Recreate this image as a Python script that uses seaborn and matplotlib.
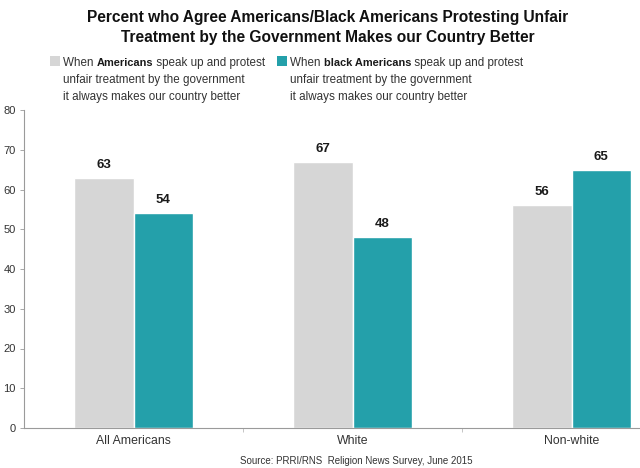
import pandas as pd
import numpy as np
import seaborn as sns
import matplotlib.pyplot as plt
from matplotlib.patches import Rectangle

# Data
groups = ['All Americans', 'White', 'Non-white']
americans = [63, 67, 56]
black_americans = [54, 48, 65]
series = ['Americans', 'black Americans']
colors = ['#D6D6D6', '#24A0AA']

df = pd.DataFrame({
    'group': groups * 2,
    'series': [series[0]] * 3 + [series[1]] * 3,
    'value': americans + black_americans,
})

sns.set_style('white')
plt.rcParams['font.family'] = ['Liberation Sans', 'DejaVu Sans']

fig = plt.figure(figsize=(6.4, 4.68), dpi=100)
ax = fig.add_axes([24 / 640, 40 / 468, 1 - 24 / 640, 318 / 468])

sns.barplot(data=df, x='group', y='value', hue='series', palette=colors,
            width=0.54, ax=ax, legend=False, saturation=1)

for c in ax.containers:
    ax.bar_label(c, fmt='%d', padding=5, fontsize=9.5, fontweight='bold',
                 color='#1a1a1a')

ax.set_ylim(0, 80)
ax.set_xlim(-0.5, 2.5 - 41 / 219)
ax.set_yticks(np.arange(0, 81, 10))
ax.set_xlabel('')
ax.set_ylabel('')
for s in ['top', 'right']:
    ax.spines[s].set_visible(False)
for s in ['left', 'bottom']:
    ax.spines[s].set_color('#9a9a9a')
    ax.spines[s].set_linewidth(0.8)
ax.tick_params(axis='y', length=3, width=0.6, color='#9a9a9a', labelsize=8,
               labelcolor='#333333', pad=3, left=True)
ax.tick_params(axis='x', length=0, labelsize=8.8, labelcolor='#333333', pad=5)
ax.set_xticks([0.5, 1.5], minor=True)
ax.tick_params(axis='x', which='minor', length=3, width=0.6, color='#bbbbbb',
               bottom=True)

# Title, one text per line
title_lines = ['Percent who Agree Americans/Black Americans Protesting Unfair',
               'Treatment by the Government Makes our Country Better']
for line, base in zip(title_lines, [22, 42]):
    fig.text(0.512, 1 - base / 468, line, ha='center', va='baseline',
             fontsize=11.2, fontweight='bold', color='#111111')

# Legend built by hand (mixed bold text on one baseline)
renderer = fig.canvas.get_renderer()
fs = 8.4

def legend_entry(x_px, color, bold_word):
    fig.add_artist(Rectangle((x_px / 640, 1 - 66 / 468), 10 / 640, 10 / 468,
                             transform=fig.transFigure, color=color, lw=0))
    x = x_px + 13
    y = 1 - 66 / 468
    for piece, weight, size in [('When ', 'normal', fs), (bold_word, 'bold', 7.9),
                                (' speak up and protest', 'normal', fs)]:
        t = fig.text(x / 640, y, piece, fontsize=size, fontweight=weight,
                     va='baseline', color='#1a1a1a' if weight == 'bold' else '#333333')
        x = t.get_window_extent(renderer).x1
    fig.text((x_px + 13) / 640, 1 - 83 / 468, 'unfair treatment by the government',
             fontsize=fs, va='baseline', color='#333333')
    fig.text((x_px + 13) / 640, 1 - 100 / 468, 'it always makes our country better',
             fontsize=fs, va='baseline', color='#333333')

legend_entry(50, colors[0], 'Americans')
legend_entry(277, colors[1], 'black Americans')

fig.text(240 / 640, 1 - 461 / 468, 'Source: PRRI/RNS  Religion News Survey, June 2015',
         fontsize=7, color='#333333', va='center')

fig.savefig('out.png', dpi=100)
